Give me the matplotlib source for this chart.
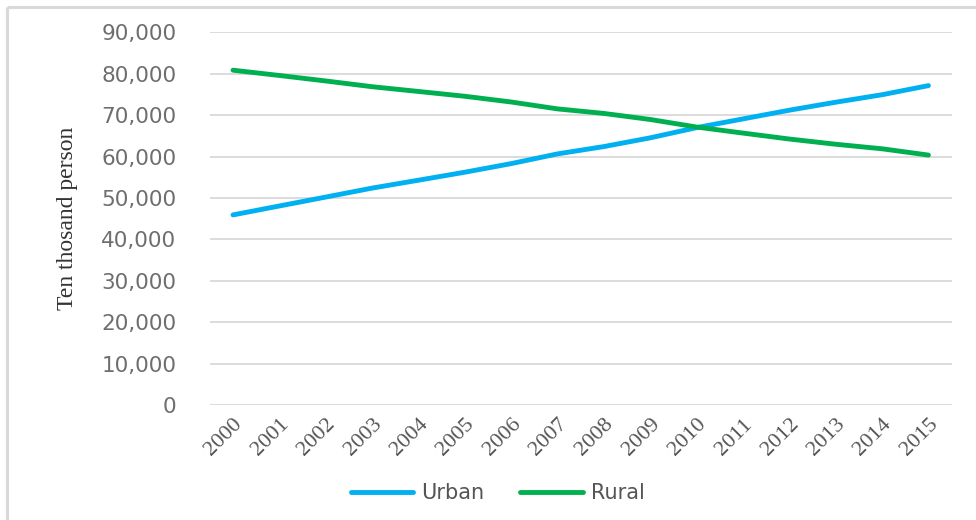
import matplotlib.pyplot as plt
from matplotlib.ticker import FuncFormatter
from matplotlib.lines import Line2D

years = ['2000', '2001', '2002', '2003', '2004', '2005', '2006', '2007',
         '2008', '2009', '2010', '2011', '2012', '2013', '2014', '2015']
urban = [45906, 48064, 50212, 52376, 54283, 56212, 58288, 60633,
         62403, 64512, 66978, 69079, 71182, 73111, 74916, 77116]
rural = [80837, 79563, 78241, 76851, 75705, 74544, 73160, 71496,
         70399, 68938, 67113, 65656, 64222, 62961, 61866, 60346]

fig = plt.figure(figsize=(9.76, 5.2), dpi=100)
ax = fig.add_axes([0.215, 0.221, 0.76, 0.717])

x = list(range(len(years)))
ax.plot(x, urban, color='#00b0f0', linewidth=3.5, solid_capstyle='round', label='Urban')
ax.plot(x, rural, color='#00b050', linewidth=3.5, solid_capstyle='round', label='Rural')

ax.set_xlim(-0.5, len(years) - 0.5)
ax.set_ylim(0, 90000)
ax.set_yticks(range(0, 90001, 10000))
ax.yaxis.set_major_formatter(FuncFormatter(lambda v, p: '{:,.0f}'.format(v)))
ax.grid(axis='y', color='#d9d9d9', linewidth=1.3)
ax.set_axisbelow(True)
for s in ax.spines.values():
    s.set_visible(False)
ax.tick_params(axis='both', length=0)
ax.tick_params(axis='y', labelsize=15.5, labelcolor='#6e6e6e', pad=24)

ax.set_xticks(x)
ax.set_xticklabels(years, rotation=45, ha='right', rotation_mode='anchor',
                   family='Liberation Serif', fontsize=16, color='#555555')
ax.tick_params(axis='x', pad=7)

ax.set_ylabel('Ten thosand person', family='Liberation Serif', fontsize=17,
              color='#333333')
ax.yaxis.set_label_coords(-0.178, 0.5)

handles = [Line2D([], [], color='#00b0f0', linewidth=3.5, solid_capstyle='round'),
           Line2D([], [], color='#00b050', linewidth=3.5, solid_capstyle='round')]
fig.legend(handles, ['Urban', 'Rural'], loc='center', bbox_to_anchor=(0.51, 0.052),
           ncol=2, frameon=False, fontsize=15, labelcolor='#555555',
           handlelength=3.0, handletextpad=0.4, columnspacing=1.7)

# light grey frame on top and left edges
fig.add_artist(Line2D([0.007, 1.0], [0.986, 0.986], color='#d9d9d9', linewidth=2.2,
                      solid_capstyle='butt', transform=fig.transFigure))
fig.add_artist(Line2D([0.007, 0.007], [0.0, 0.986], color='#d9d9d9', linewidth=2.2,
                      solid_capstyle='butt', transform=fig.transFigure))

fig.savefig('out.png', dpi=100)
